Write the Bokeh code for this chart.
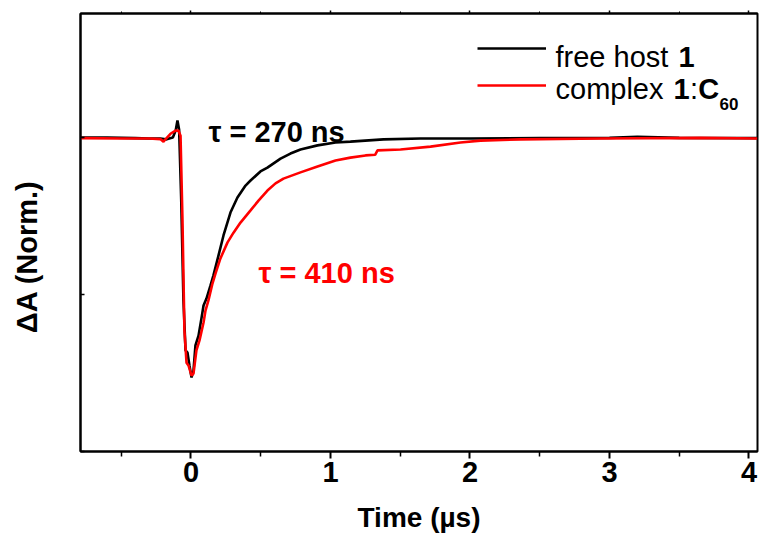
from bokeh.plotting import figure
from bokeh.models import (FixedTicker, Label, Legend, LegendItem, LinearAxis, Range1d)
from bokeh.embed import file_html
from bokeh.resources import INLINE

# ---- data (time in µs, normalized ΔA) ----
host_t = [-0.79, -0.60, -0.40, -0.30, -0.22, -0.18, -0.15, -0.13, -0.11, -0.097, -0.085,
          -0.070, -0.054, -0.039, -0.025, -0.011, 0.004, 0.018, 0.032, 0.054, 0.075,
          0.090, 0.111, 0.140, 0.161, 0.197, 0.233, 0.283, 0.333, 0.391, 0.427, 0.498,
          0.548, 0.642, 0.713, 0.785, 0.907, 1.036, 1.143, 1.380, 1.645, 2.004, 2.5,
          3.0, 3.2, 3.5, 4.06]
host_a = [0.000, 0.000, -0.002, -0.003, -0.003, -0.006, -0.002, 0.000, 0.022, 0.054, 0.025,
          -0.200, -0.520, -0.678, -0.685, -0.726, -0.764, -0.742, -0.662, -0.631, -0.576,
          -0.535, -0.513, -0.471, -0.439, -0.376, -0.312, -0.239, -0.191, -0.153, -0.137, -0.108,
          -0.096, -0.067, -0.051, -0.038, -0.025, -0.016, -0.013, -0.006, -0.003, -0.003, -0.002,
          -0.001, 0.002, -0.001, -0.002]

cplx_t = [-0.79, -0.50, -0.30, -0.22, -0.197, -0.18, -0.147, -0.111, -0.090, -0.075, -0.061,
          -0.047, -0.032, -0.018, 0.004, 0.018, 0.039, 0.061, 0.090, 0.104, 0.125, 0.154,
          0.176, 0.211, 0.262, 0.305, 0.355, 0.427, 0.484, 0.548, 0.606, 0.663, 0.785,
          0.907, 1.036, 1.143, 1.251, 1.320, 1.337, 1.502, 1.717, 1.932, 2.075, 2.362,
          2.935, 3.652, 4.06]
cplx_a = [-0.002, -0.003, -0.003, -0.005, -0.013, -0.004, 0.012, 0.022, 0.022, 0.006, -0.264,
          -0.615, -0.717, -0.726, -0.758, -0.752, -0.678, -0.646, -0.589, -0.551, -0.519, -0.465,
          -0.433, -0.385, -0.334, -0.303, -0.271, -0.232, -0.201, -0.169, -0.146, -0.131, -0.111,
          -0.092, -0.073, -0.064, -0.057, -0.055, -0.041, -0.038, -0.029, -0.016, -0.010, -0.006,
          -0.003, -0.001, -0.003]

x_major = [0, 1, 2, 3, 4]
x_minor = [-0.5, 0.5, 1.5, 2.5, 3.5]
y_major = [0, -0.5, -1.0]

FONT = "Liberation Sans"

p = figure(width=762, height=543, output_backend="svg", toolbar_location=None,
           x_range=Range1d(-0.792, 4.061), y_range=Range1d(-1.0, 0.395),
           min_border_left=80, min_border_right=5, min_border_top=13, min_border_bottom=92,
           background_fill_color="white", border_fill_color="white")
p.grid.visible = False
p.outline_line_color = "black"
p.outline_line_width = 2

# x axis
xa = p.xaxis[0]
xa.ticker = FixedTicker(ticks=x_major, minor_ticks=x_minor)
xa.axis_label = "Time (µs)"
xa.axis_label_text_font = FONT
xa.axis_label_text_font_style = "bold"
xa.axis_label_text_font_size = "28px"
xa.axis_label_text_color = "black"
xa.axis_label_standoff = 17
xa.major_label_text_font = FONT
xa.major_label_text_font_style = "bold"
xa.major_label_text_font_size = "29px"
xa.major_label_text_color = "black"
xa.major_label_standoff = 3
xa.major_tick_in = 0
xa.major_tick_out = 7
xa.minor_tick_in = 0
xa.minor_tick_out = 5
xa.axis_line_width = 2
xa.major_tick_line_width = 2
xa.minor_tick_line_width = 1.5

# y axis (no tick labels); trailing no-break spaces nudge the centred title downward
ya = p.yaxis[0]
ya.ticker = FixedTicker(ticks=y_major, minor_ticks=[])
ya.axis_label = "ΔA (Norm.)" + "\u00a0" * 6
ya.axis_label_text_font = FONT
ya.axis_label_text_font_style = "bold"
ya.axis_label_text_font_size = "29px"
ya.axis_label_text_color = "black"
ya.axis_label_standoff = 38
ya.major_label_text_font_size = "1px"
ya.major_label_text_alpha = 0
ya.major_label_standoff = 0
ya.major_tick_in = 4
ya.major_tick_out = 0
ya.axis_line_width = 2
ya.major_tick_line_width = 1.5

# top axis (ticks only)
top = LinearAxis(ticker=FixedTicker(ticks=x_major, minor_ticks=x_minor),
                 major_label_text_font_size="1px", major_label_text_alpha=0,
                 major_label_standoff=0, major_tick_in=0, major_tick_out=3,
                 minor_tick_in=0, minor_tick_out=2, axis_line_width=2,
                 major_tick_line_width=1.5, minor_tick_line_width=1)
p.add_layout(top, "above")

r_host = p.line(host_t, host_a, line_color="black", line_width=2.6)
r_cplx = p.line(cplx_t, cplx_a, line_color="#ff0000", line_width=2.6)

legend = Legend(items=[LegendItem(label=" ", renderers=[r_host]),
                       LegendItem(label=" ", renderers=[r_cplx])],
                location=(397, 356), glyph_width=69, glyph_height=20, label_height=20,
                label_width=0, label_standoff=0, label_text_font_size="1px",
                spacing=17, padding=0, margin=0, border_line_alpha=0,
                background_fill_alpha=0)
p.add_layout(legend, "center")

def lab(x, y, text, size="29px", style="normal", color="black"):
    p.add_layout(Label(x=x, y=y, text=text, text_font=FONT, text_font_size=size,
                       text_font_style=style, text_color=color,
                       text_align="left", text_baseline="alphabetic"))

# legend texts
lab(2.613, 0.255, "free host ")
lab(3.495, 0.255, "1", style="bold")
lab(2.613, 0.156, "complex ")
lab(3.459, 0.156, "1", style="bold")
lab(3.577, 0.156, ":")
lab(3.636, 0.156, "C", style="bold")
lab(3.789, 0.108, "60", size="17px", style="bold")

# lifetime annotations
lab(0.125, 0.016, "τ = 270 ns", size="29px", style="bold")
lab(0.484, -0.430, "τ = 410 ns", size="29px", style="bold", color="#ff0000")

open("out.html", "w").write(file_html(p, INLINE))
